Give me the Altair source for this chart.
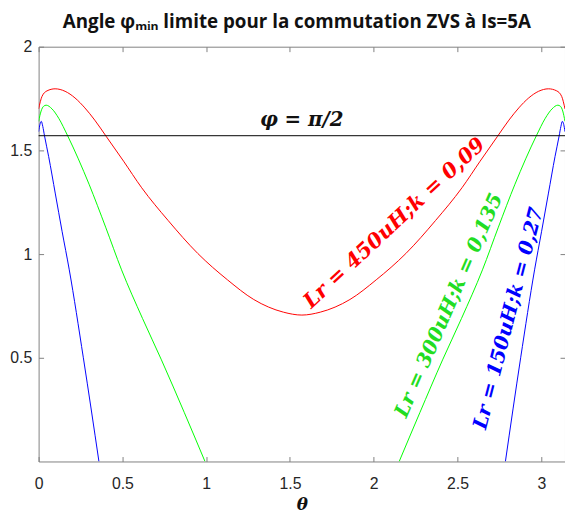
import altair as alt
import pandas as pd

# ---- data ----
red_theta = [0.0, 0.02, 0.05, 0.0985, 0.158, 0.217, 0.276, 0.335, 0.403, 0.507, 0.615, 0.773, 0.95, 1.127, 1.284, 1.461, 1.571,
             1.681, 1.858, 2.015, 2.192, 2.369, 2.527, 2.635, 2.739, 2.807, 2.866, 2.925, 2.984, 3.043, 3.092, 3.122, 3.1416]
red_phi = [1.70, 1.76, 1.787, 1.797, 1.785, 1.753, 1.705, 1.646, 1.568, 1.448, 1.320, 1.162, 1.003, 0.876, 0.781, 0.720, 0.706,
           0.720, 0.781, 0.876, 1.003, 1.162, 1.320, 1.448, 1.568, 1.646, 1.705, 1.753, 1.785, 1.797, 1.787, 1.76, 1.70]

green_theta_a = [0.0, 0.015, 0.03, 0.045, 0.08, 0.12, 0.173, 0.301, 0.40, 0.495, 0.62, 0.733, 0.87, 0.993]
green_phi_a = [1.64, 1.69, 1.713, 1.718, 1.70, 1.655, 1.571, 1.337, 1.13, 0.924, 0.69, 0.49, 0.235, 0.0]
green_theta_b = [2.152, 2.275, 2.411, 2.524, 2.649, 2.744, 2.843, 2.971, 3.024, 3.064, 3.099, 3.114, 3.128, 3.1416]
green_phi_b = [0.0, 0.235, 0.49, 0.69, 0.924, 1.13, 1.337, 1.571, 1.655, 1.70, 1.718, 1.713, 1.69, 1.64]

blue_theta_a = [0.0, 0.008, 0.016, 0.025, 0.035, 0.06, 0.10, 0.14, 0.183, 0.267, 0.36]
blue_phi_a = [1.59, 1.625, 1.64, 1.615, 1.571, 1.47, 1.29, 1.11, 0.924, 0.5, 0.0]
blue_theta_b = [2.786, 2.877, 2.960, 3.002, 3.042, 3.082, 3.107, 3.117, 3.126, 3.134, 3.1416]
blue_phi_b = [0.0, 0.5, 0.924, 1.11, 1.29, 1.47, 1.571, 1.615, 1.64, 1.625, 1.59]

phi_limit = [1.5708]
x_ticks = [0, 0.5, 1, 1.5, 2, 2.5, 3]
y_ticks = [0.5, 1, 1.5, 2]

label_text = ["Lr = 450uH;k = 0,09", "Lr = 300uH;k = 0,135", "Lr = 150uH;k = 0,27"]
label_theta = [2.125, 2.45, 2.805]
label_phi = [1.148, 0.752, 0.69]
phi_label_text = ["\u03c6 = \u03c0/2"]
phi_label_theta = [1.57]
phi_label_phi = [1.645]

# ---- build table ----
rows = []
def add(series, seg, th, ph):
    for t, p in zip(th, ph):
        rows.append({"series": series, "seg": seg, "theta": t, "phi": p})

add("red", "r", red_theta, red_phi)
add("green", "ga", green_theta_a, green_phi_a)
add("green", "gb", green_theta_b, green_phi_b)
add("blue", "ba", blue_theta_a, blue_phi_a)
add("blue", "bb", blue_theta_b, blue_phi_b)
df = pd.DataFrame(rows)

AX = "#808080"
LBL = "#262626"
xscale = alt.Scale(domain=[0, 3.1416], nice=False, zero=False)
yscale = alt.Scale(domain=[0, 2], nice=False, zero=False)
cscale = alt.Scale(domain=["red", "green", "blue"], range=["#ff0000", "#00ff00", "#0000ff"])

lines = alt.Chart(df).mark_line(strokeWidth=1, interpolate="monotone", clip=True).encode(
    x=alt.X("theta:Q", scale=xscale,
            axis=alt.Axis(orient="bottom", values=x_ticks, offset=-5, tickSize=5, domain=False,
                          grid=False, tickColor=AX, labelColor=LBL, labelFont="Liberation Sans",
                          labelFontSize=16, labelPadding=14, labelFlush=False, format="~g",
                          title="\u03b8", titleFont="DejaVu Serif", titleFontStyle="italic",
                          titleFontWeight="bold", titleFontSize=17, titleColor="#111111",
                          titlePadding=6)),
    y=alt.Y("phi:Q", scale=yscale,
            axis=alt.Axis(orient="left", values=y_ticks, offset=-5, tickSize=5, domain=False,
                          grid=False, tickColor=AX, labelColor=LBL, labelFont="Liberation Sans",
                          labelFontSize=16, labelPadding=7, labelFlush=False, format="~g",
                          title=None)),
    color=alt.Color("series:N", scale=cscale, legend=None),
    detail="seg:N",
)

ghost = alt.Chart(df).mark_point(opacity=0).encode(
    x=alt.X("theta:Q", scale=xscale,
            axis=alt.Axis(orient="top", values=x_ticks, offset=-5, tickSize=5, domain=False,
                          grid=False, tickColor=AX, labels=False, title=None)),
    y=alt.Y("phi:Q", scale=yscale,
            axis=alt.Axis(orient="right", values=y_ticks, offset=-5, tickSize=5, domain=False,
                          grid=False, tickColor=AX, labels=False, title=None)),
)

hline = alt.Chart(pd.DataFrame({"phi": phi_limit})).mark_rule(color="#000000", strokeWidth=1).encode(
    y=alt.Y("phi:Q", scale=yscale, axis=None)
)

phi_lbl = alt.Chart(pd.DataFrame({"theta": phi_label_theta, "phi": phi_label_phi, "t": phi_label_text})).mark_text(
    font="DejaVu Serif", fontStyle="italic", fontWeight="bold", fontSize=20, color="#111111"
).encode(x=alt.X("theta:Q", scale=xscale, axis=None), y=alt.Y("phi:Q", scale=yscale, axis=None), text="t:N")

label_colors = ["#ff0000", "#22dd22", "#0000ff"]
label_angles = [317, 293.5, 284.5]
label_sizes = [21, 20, 20]
texts = []
for i in range(3):
    d = pd.DataFrame({"theta": [label_theta[i]], "phi": [label_phi[i]], "t": [label_text[i]]})
    texts.append(alt.Chart(d).mark_text(
        font="DejaVu Serif", fontStyle="italic", fontWeight="bold", fontSize=label_sizes[i],
        color=label_colors[i], angle=label_angles[i]
    ).encode(x=alt.X("theta:Q", scale=xscale, axis=None), y=alt.Y("phi:Q", scale=yscale, axis=None), text="t:N"))

chart = alt.layer(lines, ghost, hline, phi_lbl, *texts).resolve_axis(
    x="independent", y="independent"
).properties(
    width=533, height=420,
    autosize=alt.AutoSizeParams(type="none"),
    padding={"left": 31, "top": 36, "right": 0, "bottom": 51},
    title=alt.TitleParams("Angle \u03c6\u2098\u1d62\u2099 limite pour la commutation ZVS \u00e0 Is=5A",
                          font="Open Sans", fontSize=19, fontWeight="bold", color="#111111",
                          anchor="middle", offset=7, dx=-5),
).configure_view(stroke=AX, strokeWidth=1)

chart.save("out.html", embed_options={"renderer": "svg", "actions": False})
